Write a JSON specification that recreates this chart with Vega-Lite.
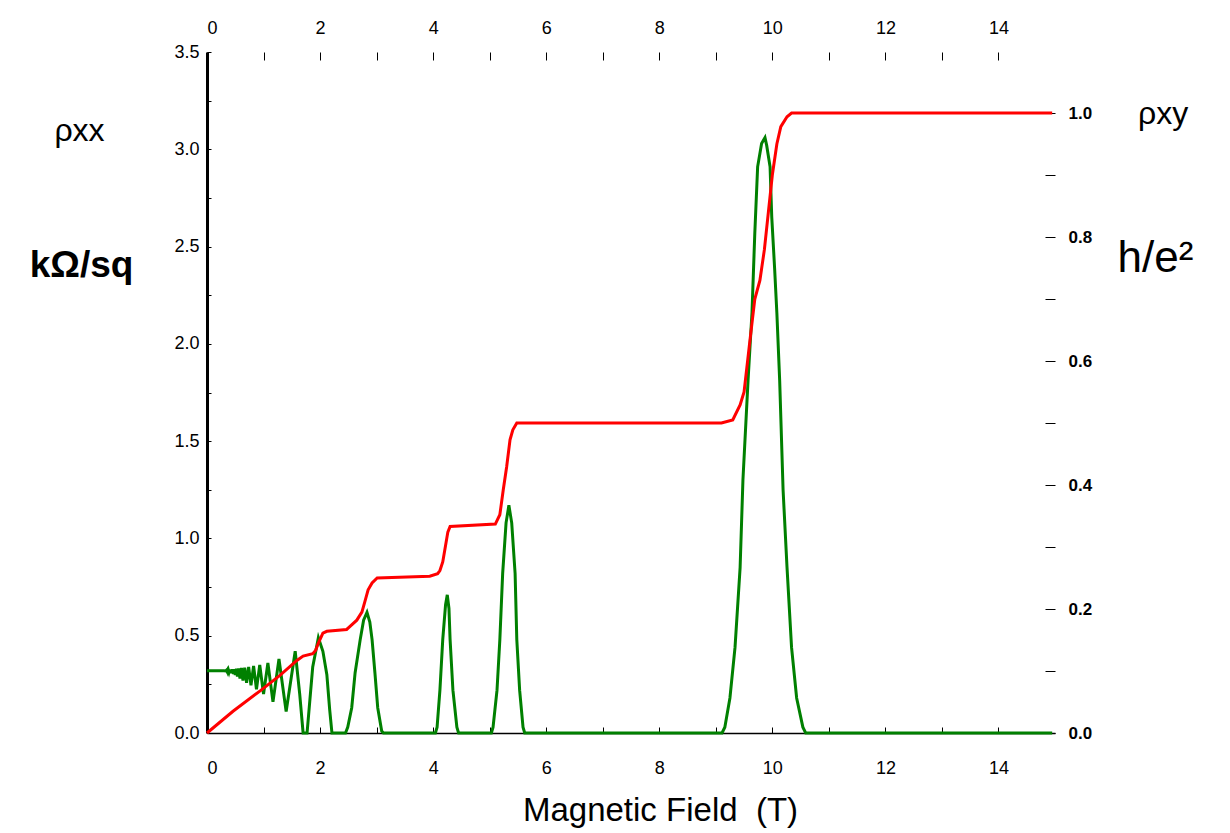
{
  "$schema": "https://vega.github.io/schema/vega-lite/v6.json",
  "width": 848,
  "height": 681,
  "autosize": "none",
  "padding": {"left": 207, "top": 52, "right": 175, "bottom": 100},
  "background": "white",
  "config": {"view": {"stroke": null}, "font": "Liberation Sans"},
  "title": {"text": "ρxy", "anchor": "start", "frame": "group", "dx": 931, "dy": 116, "fontSize": 32, "fontWeight": "normal", "font": "Liberation Sans", "color": "black"},
  "datasets": {
    "rxx": [
      {"B": 0, "rxx": 0.32}, {"B": 0.30, "rxx": 0.32}, {"B": 0.33, "rxx": 0.319}, {"B": 0.34, "rxx": 0.322},
      {"B": 0.35, "rxx": 0.317}, {"B": 0.36, "rxx": 0.323}, {"B": 0.368, "rxx": 0.315},
      {"B": 0.378, "rxx": 0.324}, {"B": 0.389, "rxx": 0.313}, {"B": 0.40, "rxx": 0.325}, {"B": 0.41, "rxx": 0.311},
      {"B": 0.42, "rxx": 0.326}, {"B": 0.4375, "rxx": 0.308},
      {"B": 0.45, "rxx": 0.327}, {"B": 0.467, "rxx": 0.304}, {"B": 0.48, "rxx": 0.328}, {"B": 0.50, "rxx": 0.298},
      {"B": 0.52, "rxx": 0.33}, {"B": 0.538, "rxx": 0.29}, {"B": 0.56, "rxx": 0.332}, {"B": 0.583, "rxx": 0.28},
      {"B": 0.609, "rxx": 0.334}, {"B": 0.636, "rxx": 0.27}, {"B": 0.667, "rxx": 0.336}, {"B": 0.70, "rxx": 0.258},
      {"B": 0.737, "rxx": 0.34}, {"B": 0.778, "rxx": 0.245}, {"B": 0.824, "rxx": 0.345}, {"B": 0.875, "rxx": 0.225},
      {"B": 0.933, "rxx": 0.35}, {"B": 1.0, "rxx": 0.2}, {"B": 1.077, "rxx": 0.36}, {"B": 1.167, "rxx": 0.16},
      {"B": 1.273, "rxx": 0.38}, {"B": 1.40, "rxx": 0.11}, {"B": 1.56, "rxx": 0.42}, {"B": 1.64, "rxx": 0.2},
      {"B": 1.70, "rxx": 0.0}, {"B": 1.77, "rxx": 0.0}, {"B": 1.82, "rxx": 0.17}, {"B": 1.87, "rxx": 0.34},
      {"B": 1.97, "rxx": 0.49}, {"B": 2.05, "rxx": 0.42}, {"B": 2.12, "rxx": 0.3}, {"B": 2.17, "rxx": 0.12},
      {"B": 2.21, "rxx": 0.0}, {"B": 2.45, "rxx": 0.0}, {"B": 2.49, "rxx": 0.03}, {"B": 2.56, "rxx": 0.13},
      {"B": 2.62, "rxx": 0.31}, {"B": 2.71, "rxx": 0.48}, {"B": 2.77, "rxx": 0.58}, {"B": 2.83, "rxx": 0.62},
      {"B": 2.88, "rxx": 0.57}, {"B": 2.92, "rxx": 0.48}, {"B": 2.97, "rxx": 0.31}, {"B": 3.02, "rxx": 0.13},
      {"B": 3.09, "rxx": 0.01}, {"B": 3.12, "rxx": 0.0}, {"B": 4.04, "rxx": 0.0}, {"B": 4.07, "rxx": 0.03},
      {"B": 4.12, "rxx": 0.22}, {"B": 4.17, "rxx": 0.48}, {"B": 4.22, "rxx": 0.66}, {"B": 4.25, "rxx": 0.71},
      {"B": 4.28, "rxx": 0.64}, {"B": 4.30, "rxx": 0.48}, {"B": 4.35, "rxx": 0.22}, {"B": 4.42, "rxx": 0.03},
      {"B": 4.45, "rxx": 0.0}, {"B": 5.03, "rxx": 0.0}, {"B": 5.06, "rxx": 0.03}, {"B": 5.13, "rxx": 0.22},
      {"B": 5.18, "rxx": 0.48}, {"B": 5.23, "rxx": 0.82}, {"B": 5.29, "rxx": 1.08}, {"B": 5.34, "rxx": 1.17},
      {"B": 5.39, "rxx": 1.08}, {"B": 5.45, "rxx": 0.82}, {"B": 5.48, "rxx": 0.48}, {"B": 5.53, "rxx": 0.22},
      {"B": 5.59, "rxx": 0.03}, {"B": 5.62, "rxx": 0.0}, {"B": 9.11, "rxx": 0.0}, {"B": 9.16, "rxx": 0.03},
      {"B": 9.25, "rxx": 0.18}, {"B": 9.34, "rxx": 0.44}, {"B": 9.43, "rxx": 0.85}, {"B": 9.48, "rxx": 1.30},
      {"B": 9.57, "rxx": 1.81}, {"B": 9.64, "rxx": 2.16}, {"B": 9.69, "rxx": 2.57}, {"B": 9.74, "rxx": 2.91},
      {"B": 9.81, "rxx": 3.03}, {"B": 9.87, "rxx": 3.06}, {"B": 9.90, "rxx": 3.02}, {"B": 9.96, "rxx": 2.91},
      {"B": 9.99, "rxx": 2.65}, {"B": 10.04, "rxx": 2.39}, {"B": 10.08, "rxx": 2.16}, {"B": 10.13, "rxx": 1.81},
      {"B": 10.19, "rxx": 1.25}, {"B": 10.26, "rxx": 0.85}, {"B": 10.34, "rxx": 0.44}, {"B": 10.43, "rxx": 0.18},
      {"B": 10.54, "rxx": 0.03}, {"B": 10.59, "rxx": 0.0}, {"B": 14.95, "rxx": 0.0}
    ],
    "rxy": [
      {"B": 0, "rxy": 0}, {"B": 0.46, "rxy": 0.035}, {"B": 0.94, "rxy": 0.068}, {"B": 1.29, "rxy": 0.093},
      {"B": 1.59, "rxy": 0.117}, {"B": 1.70, "rxy": 0.124}, {"B": 1.87, "rxy": 0.128}, {"B": 1.92, "rxy": 0.133},
      {"B": 1.97, "rxy": 0.145}, {"B": 2.05, "rxy": 0.161}, {"B": 2.12, "rxy": 0.164}, {"B": 2.47, "rxy": 0.167},
      {"B": 2.53, "rxy": 0.172}, {"B": 2.65, "rxy": 0.182}, {"B": 2.74, "rxy": 0.195}, {"B": 2.79, "rxy": 0.211},
      {"B": 2.85, "rxy": 0.231}, {"B": 2.92, "rxy": 0.242}, {"B": 3.01, "rxy": 0.25}, {"B": 3.94, "rxy": 0.253},
      {"B": 4.08, "rxy": 0.257}, {"B": 4.12, "rxy": 0.262}, {"B": 4.17, "rxy": 0.276}, {"B": 4.21, "rxy": 0.297},
      {"B": 4.26, "rxy": 0.324}, {"B": 4.30, "rxy": 0.333}, {"B": 5.10, "rxy": 0.337}, {"B": 5.18, "rxy": 0.352},
      {"B": 5.24, "rxy": 0.392}, {"B": 5.30, "rxy": 0.429}, {"B": 5.36, "rxy": 0.473}, {"B": 5.41, "rxy": 0.489},
      {"B": 5.48, "rxy": 0.5}, {"B": 9.10, "rxy": 0.5}, {"B": 9.30, "rxy": 0.505}, {"B": 9.43, "rxy": 0.529},
      {"B": 9.5, "rxy": 0.55}, {"B": 9.6, "rxy": 0.63}, {"B": 9.69, "rxy": 0.70}, {"B": 9.78, "rxy": 0.73},
      {"B": 9.86, "rxy": 0.78}, {"B": 9.93, "rxy": 0.84}, {"B": 10.0, "rxy": 0.90}, {"B": 10.08, "rxy": 0.95},
      {"B": 10.15, "rxy": 0.978}, {"B": 10.26, "rxy": 0.994}, {"B": 10.34, "rxy": 1.0}, {"B": 14.95, "rxy": 1.0}
    ]
  },
  "layer": [
    {
      "data": {"name": "rxx"},
      "mark": {"type": "line", "color": "#008000", "strokeWidth": 3},
      "encoding": {
        "x": {
          "field": "B", "type": "quantitative",
          "scale": {"domain": [0, 15], "nice": false, "zero": false},
          "axis": {
            "orient": "bottom", "values": [0,1,2,3,4,5,6,7,8,9,10,11,12,13,14],
            "labelExpr": "datum.value % 2 == 0 ? datum.label : ''",
            "grid": false, "domainColor": "black", "domainWidth": 1.5, "tickColor": "black", "tickSize": -6,
            "labelFontSize": 18, "labelColor": "black", "labelPadding": 32, "labelFont": "Liberation Sans",
            "title": "Magnetic Field\u00a0\u00a0(T)", "titleFontSize": 33, "titleFontWeight": "normal", "titleColor": "black",
            "titleFont": "Liberation Sans", "titlePadding": 17, "titleX": 453
          }
        },
        "y": {
          "field": "rxx", "type": "quantitative",
          "scale": {"domain": [0, 3.5], "nice": false},
          "axis": {
            "orient": "left", "values": [0,0.25,0.5,0.75,1,1.25,1.5,1.75,2,2.25,2.5,2.75,3,3.25,3.5],
            "format": ".1f",
            "labelExpr": "(datum.value * 2) % 1 == 0 ? datum.label : ''",
            "grid": false, "domainColor": "black", "domainWidth": 3, "tickColor": "black", "tickSize": -4,
            "labelFontSize": 18, "labelColor": "black", "labelPadding": 12, "labelFont": "Liberation Sans",
            "title": "kΩ/sq", "titleAngle": 0, "titleX": -126, "titleY": 213, "titleAlign": "center",
            "titleBaseline": "middle", "titleFontSize": 37, "titleFontWeight": "bold", "titleColor": "black",
            "titleFont": "Liberation Sans"
          }
        }
      }
    },
    {
      "data": {"name": "rxy"},
      "mark": {"type": "line", "color": "#ff0000", "strokeWidth": 3},
      "encoding": {
        "x": {
          "field": "B", "type": "quantitative",
          "scale": {"domain": [0, 15], "nice": false, "zero": false},
          "axis": {
            "orient": "top", "values": [0,1,2,3,4,5,6,7,8,9,10,11,12,13,14],
            "labelExpr": "datum.value % 2 == 0 ? datum.label : ''",
            "grid": false, "domain": false, "tickColor": "black", "tickSize": -8,
            "labelFontSize": 18, "labelColor": "black", "labelPadding": 23, "labelFont": "Liberation Sans",
            "title": "ρxx", "titleX": -128, "titleY": 78, "titleAlign": "center", "titleBaseline": "middle",
            "titleAngle": 0, "titleFontSize": 32, "titleFontWeight": "normal", "titleColor": "black",
            "titleFont": "Liberation Sans"
          }
        },
        "y": {
          "field": "rxy", "type": "quantitative",
          "scale": {"domain": [0, 1.0984], "nice": false},
          "axis": {
            "orient": "right", "values": [0,0.1,0.2,0.3,0.4,0.5,0.6,0.7,0.8,0.9,1.0],
            "format": ".1f",
            "labelExpr": "round(datum.value * 10) % 2 == 0 ? datum.label : ''",
            "grid": false, "domain": false, "tickColor": "black", "tickSize": -10,
            "labelFontSize": 17, "labelFontWeight": "bold", "labelColor": "black", "labelPadding": 23,
            "labelFont": "Liberation Sans",
            "title": "h/e²", "titleAngle": 0, "titleX": 100, "titleY": 206, "titleAlign": "center",
            "titleBaseline": "middle", "titleFontSize": 44, "titleFontWeight": "normal", "titleColor": "black",
            "titleFont": "Liberation Sans"
          }
        }
      }
    }
  ],
  "resolve": {"scale": {"y": "independent"}, "axis": {"x": "independent", "y": "independent"}}
}
